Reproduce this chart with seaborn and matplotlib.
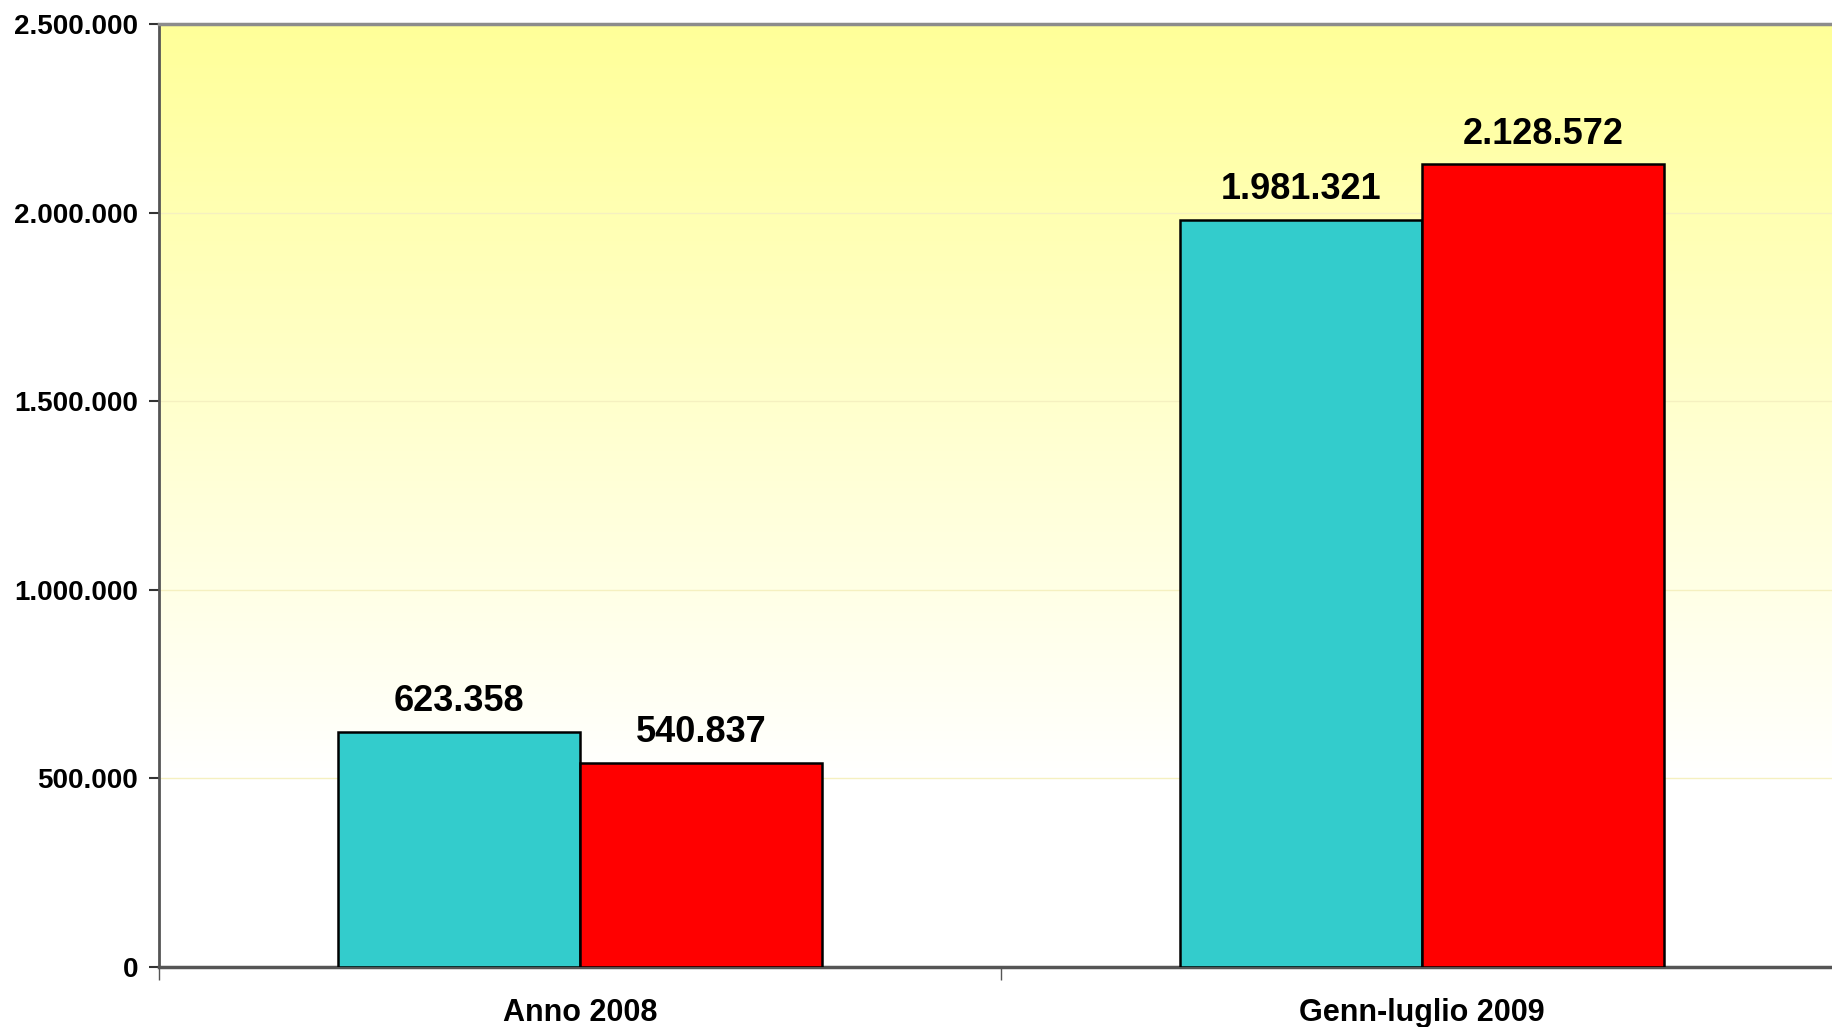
import numpy as np
import pandas as pd
import seaborn as sns
import matplotlib.pyplot as plt
from matplotlib.colors import LinearSegmentedColormap

# Chart data
categories = ["Anno 2008", "Genn-luglio 2009"]
series_names = ["Serie 1", "Serie 2"]
series_1 = [623358, 1981321]
series_2 = [540837, 2128572]
y_ticks = [0, 500000, 1000000, 1500000, 2000000, 2500000]


def fmt_it(v):
    """Italian thousands separator."""
    return f"{v:,.0f}".replace(",", ".")


df = pd.DataFrame({
    "Periodo": categories * 2,
    "Serie": [series_names[0]] * 2 + [series_names[1]] * 2,
    "Valore": series_1 + series_2,
})

sns.set_style("white")
plt.rcParams['font.family'] = ['Liberation Sans', 'DejaVu Sans']
plt.rcParams['text.color'] = 'black'
plt.rcParams['xtick.color'] = 'black'
plt.rcParams['ytick.color'] = 'black'

fig = plt.figure(figsize=(18.32, 10.27), dpi=100)
ax = fig.add_axes([159 / 1832, 60 / 1027, (1843 - 159) / 1832, 943 / 1027])

# Yellow (top) to white (bottom) gradient background of the plot area
t = np.clip(np.linspace(0, 1, 256) / 0.8, 0, 1).reshape(-1, 1)
grad_cmap = LinearSegmentedColormap.from_list("bg", ["#FFFF99", "#FFFFFF"])
ax.imshow(t, aspect="auto", cmap=grad_cmap, extent=[-0.5, 1.5, 0, 2500000],
          zorder=0, origin="upper")

sns.barplot(data=df, x="Periodo", y="Valore", hue="Serie",
            palette=["#33CCCC", "#FF0000"], width=0.575, gap=0,
            edgecolor="black", linewidth=1.8, saturation=1, ax=ax, zorder=3)

ax.set_xlim(-0.5, 1.5)
ax.set_ylim(0, 2500000)
ax.set_yticks(y_ticks)
ax.set_yticklabels([fmt_it(v) for v in y_ticks], fontsize=20, fontweight="bold")
ax.set_xticks([0, 1])
ax.set_xticklabels(categories, fontsize=22, fontweight="bold")
ax.set_xticks([-0.5, 0.5, 1.5], minor=True)
ax.tick_params(axis="x", which="major", length=0, pad=22)
ax.tick_params(axis="x", which="minor", length=9, width=1, color="#555555",
               direction="out", bottom=True)
ax.tick_params(axis="y", length=7, width=1.5, color="#333333",
               direction="out", left=True, pad=8)
ax.set_xlabel("")
ax.set_ylabel("")
ax.legend_.remove()

for y in [500000, 1000000, 1500000, 2000000]:
    ax.axhline(y, color="#F5F0C0", linewidth=1, zorder=1)

for spine in ["top", "right"]:
    ax.spines[spine].set_color("#8C8C8C")
    ax.spines[spine].set_linewidth(2.5)
ax.spines["left"].set_color("#555555")
ax.spines["left"].set_linewidth(2)
ax.spines["bottom"].set_color("#555555")
ax.spines["bottom"].set_linewidth(2.5)

for container in ax.containers:
    ax.bar_label(container, labels=[fmt_it(v) for v in container.datavalues],
                 padding=9, fontsize=26, fontweight="bold", color="black")

fig.savefig("out.png", dpi=100)
